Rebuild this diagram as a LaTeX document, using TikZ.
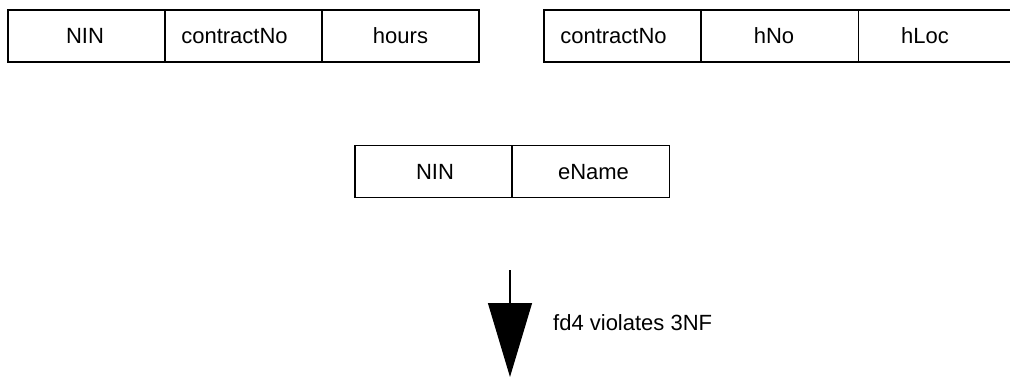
\documentclass[tikz,border=0pt]{standalone}
\usepackage{fontspec}
\setmainfont{Liberation Sans}
\usetikzlibrary{arrows.meta}
\begin{document}
\begin{tikzpicture}[x=1pt,y=-1pt,
  cellbox/.style={draw=black,line width=1.2pt,rectangle,minimum width=157pt,minimum height=52pt,inner sep=0pt},
  celltext/.style={font=\fontsize{22}{26}\selectfont,inner sep=0pt,anchor=base},
  lbl/.style={font=\fontsize{22}{26}\selectfont,anchor=west,inner sep=0pt}]
\useasboundingbox (0,0) rectangle (1010,377);
% left table
\node[cellbox] (l1) at (86.5,36) {};
\node[cellbox] (l2) at (243.5,36) {};
\node[cellbox] (l3) at (400.5,36) {};
\node[celltext] (l1t) at ([xshift=-1.5pt,yshift=-8pt]l1.center) {NIN};
\node[celltext] (l2t) at ([xshift=-9pt,yshift=-8pt]l2.center) {contractNo};
\node[celltext] (l3t) at ([yshift=-8pt]l3.center) {hours};
% right table
\node[cellbox] (r1) at (622.5,36) {};
\node[cellbox] (r2) at (780,36) {};
\node[cellbox] (r3) at (937,36) {};
\node[celltext] (r1t) at ([xshift=-9pt,yshift=-8pt]r1.center) {contractNo};
\node[celltext] (r2t) at ([xshift=-6pt,yshift=-8pt]r2.center) {hNo};
\node[celltext] (r3t) at ([xshift=-12pt,yshift=-8pt]r3.center) {hLoc};
% middle table
\node[cellbox] (m1) at (433.5,171.5) {};
\node[cellbox] (m2) at (591,171.5) {};
\node[celltext] (m1t) at ([xshift=1.5pt,yshift=-8pt]m1.center) {NIN};
\node[celltext] (m2t) at ([xshift=2.5pt,yshift=-8pt]m2.center) {eName};
% arrow
\coordinate (as) at (510,270);
\coordinate (ae) at (510,377);
\draw[line width=1.2pt,-{Triangle[length=74pt,width=44pt]}] (as) -- (ae);
\node[lbl] (t) at (553,323) {fd4 violates 3NF};
\end{tikzpicture}
\end{document}
